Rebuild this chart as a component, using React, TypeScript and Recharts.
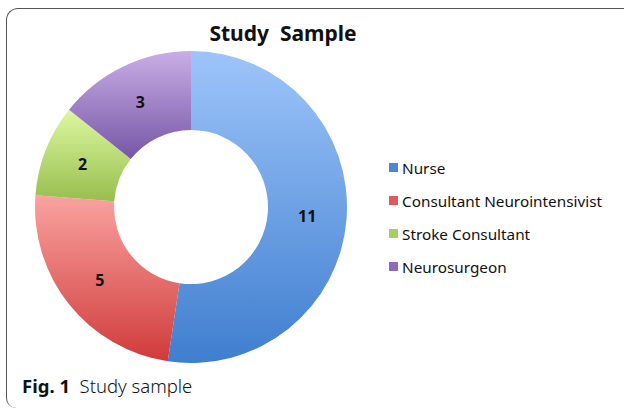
import React from "react";
import { PieChart, Pie, Cell, Legend } from "recharts";

const categories = ["Nurse", "Consultant Neurointensivist", "Stroke Consultant", "Neurosurgeon"];
const values = [11, 5, 2, 3];
const legendColors = ["#4F86D0", "#E05A5A", "#A8D060", "#8C6BBE"];
const gradTop = ["#9EC5FA", "#FAA3A0", "#DDF8A0", "#C8AEE6"];
const gradBottom = ["#3F7ECF", "#CF3B3A", "#98BE4E", "#7656A6"];

const data = categories.map((name, i) => ({ name, value: values[i] }));

const RAD = Math.PI / 180;
const renderLabel = (props: any) => {
  const { cx, cy, midAngle, innerRadius, outerRadius, value } = props;
  const r = (innerRadius + outerRadius) / 2;
  const x = cx + r * Math.cos(-midAngle * RAD);
  const y = cy + r * Math.sin(-midAngle * RAD);
  return (
    <text x={x} y={y} textAnchor="middle" dominantBaseline="central" fontFamily="Noto Sans" fontWeight="bold" fontSize={16} fill="#111">
      {value}
    </text>
  );
};

const renderLegend = () => (
  <div style={{ fontFamily: "Noto Sans", fontSize: 15.3, color: "#111" }}>
    {categories.map((c, i) => (
      <div key={c} style={{ display: "flex", alignItems: "center", height: 33 }}>
        <span style={{ width: 9, height: 9, background: legendColors[i], marginRight: 4, display: "inline-block" }} />
        <span>{c}</span>
      </div>
    ))}
  </div>
);

export default function App() {
  return (
    <div style={{ position: "fixed", left: 0, top: 0, width: 624, height: 409, background: "#fff", overflow: "hidden" }}>
      <div
        style={{
          position: "absolute",
          left: 6,
          top: 8,
          width: 640,
          height: 400,
          borderTop: "1.5px solid #555",
          borderLeft: "1.5px solid #555",
          borderTopLeftRadius: 12,
          borderBottomLeftRadius: 10,
          boxSizing: "border-box",
        }}
      />
      <div style={{ position: "absolute", left: 0, width: 566, top: 19, textAlign: "center", fontFamily: "Noto Sans", fontWeight: "bold", fontSize: 21, color: "#111", whiteSpace: "pre" }}>
        {"Study  Sample"}
      </div>
      <div style={{ position: "absolute", left: 0, top: 0 }}>
        <PieChart width={624} height={409} margin={{ top: 0, right: 0, bottom: 0, left: 0 }}>
          <defs>
            {categories.map((c, i) => (
              <linearGradient key={c} id={`g${i}`} x1="0" y1="0" x2="0" y2="1">
                <stop offset="0%" stopColor={gradTop[i]} />
                <stop offset="100%" stopColor={gradBottom[i]} />
              </linearGradient>
            ))}
          </defs>
          <Pie
            data={data}
            dataKey="value"
            nameKey="name"
            cx={191}
            cy={207}
            innerRadius={77}
            outerRadius={156}
            startAngle={90}
            endAngle={-270}
            stroke="none"
            label={renderLabel}
            labelLine={false}
            isAnimationActive={false}
          >
            {data.map((d, i) => (
              <Cell key={d.name} fill={`url(#g${i})`} />
            ))}
          </Pie>
          <Legend content={renderLegend} layout="vertical" wrapperStyle={{ position: "absolute", left: 389, top: 151, width: 234 }} />
        </PieChart>
      </div>
      <div style={{ position: "absolute", left: 22, top: 373, fontFamily: "Noto Sans", fontSize: 18.5, color: "#111", whiteSpace: "pre" }}>
        <span style={{ fontWeight: "bold" }}>Fig. 1</span>
        <span style={{ fontWeight: 300 }}>{"  Study sample"}</span>
      </div>
    </div>
  );
}
